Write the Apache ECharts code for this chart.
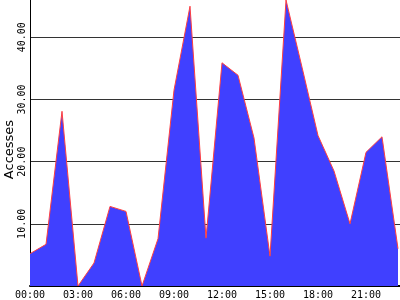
<!DOCTYPE html>
<html>
<head>
<meta charset="utf-8">
<script src="https://cdn.jsdelivr.net/npm/echarts@6/dist/echarts.min.js"></script>
<style>html,body{margin:0;padding:0;background:#fff;}#c{width:400px;height:300px;}</style>
</head>
<body>
<div id="c"></div>
<script>
var hours = [0,1,2,3,4,5,6,7,8,9,10,11,12,13,14,15,16,17,18,19,20,21,22,23];
var accesses = [5.2,6.7,28.1,0,3.7,12.8,12.0,0,7.6,31.5,45.0,7.7,35.9,33.9,23.8,4.8,46.0,35.2,24.2,18.5,10.0,21.5,24.0,6.0];
var yTicks = [10,20,30,40];

var chart = echarts.init(document.getElementById('c'), null, {renderer:'canvas'});
var data = hours.map(function(h,i){return [h, accesses[i]];});
chart.setOption({
  animation:false,
  grid:{left:30,right:0,top:0,bottom:14,containLabel:false,outerBoundsMode:'none'},
  xAxis:{
    type:'value', min:0, max:23.125, interval:3,
    axisLine:{show:true,lineStyle:{color:'#000',width:2}},
    axisTick:{show:false},
    splitLine:{show:false},
    axisLabel:{
      showMaxLabel:false, margin:4,
      fontFamily:'DejaVu Sans Mono', fontSize:10, color:'#000',
      formatter:function(v){var h=Math.round(v);return (h<10?'0':'')+h+':00';}
    }
  },
  yAxis:{
    type:'value', min:0, max:46, interval:10,
    name:'Accesses', nameLocation:'middle', nameGap:14, nameMoveOverlap:false,
    nameTextStyle:{fontFamily:'DejaVu Sans', fontSize:13, color:'#000', padding:[0,13,0,0]},
    axisLine:{show:true,lineStyle:{color:'#000',width:1}},
    axisTick:{show:false},
    splitLine:{show:true,showMinLine:false,showMaxLine:false,lineStyle:{color:'#333',width:1}},
    axisLabel:{
      rotate:90, margin:3, showMinLabel:false, showMaxLabel:false,
      fontFamily:'DejaVu Sans Mono', fontSize:10, color:'#000',
      formatter:function(v){return yTicks.indexOf(v)>=0 ? v.toFixed(2) : '';}
    }
  },
  series:[{
    type:'line', data:data, symbol:'none', smooth:false,
    lineStyle:{color:'#ff4040',width:1},
    areaStyle:{color:'#4040ff',opacity:1}
  }]
});
</script>
</body>
</html>
